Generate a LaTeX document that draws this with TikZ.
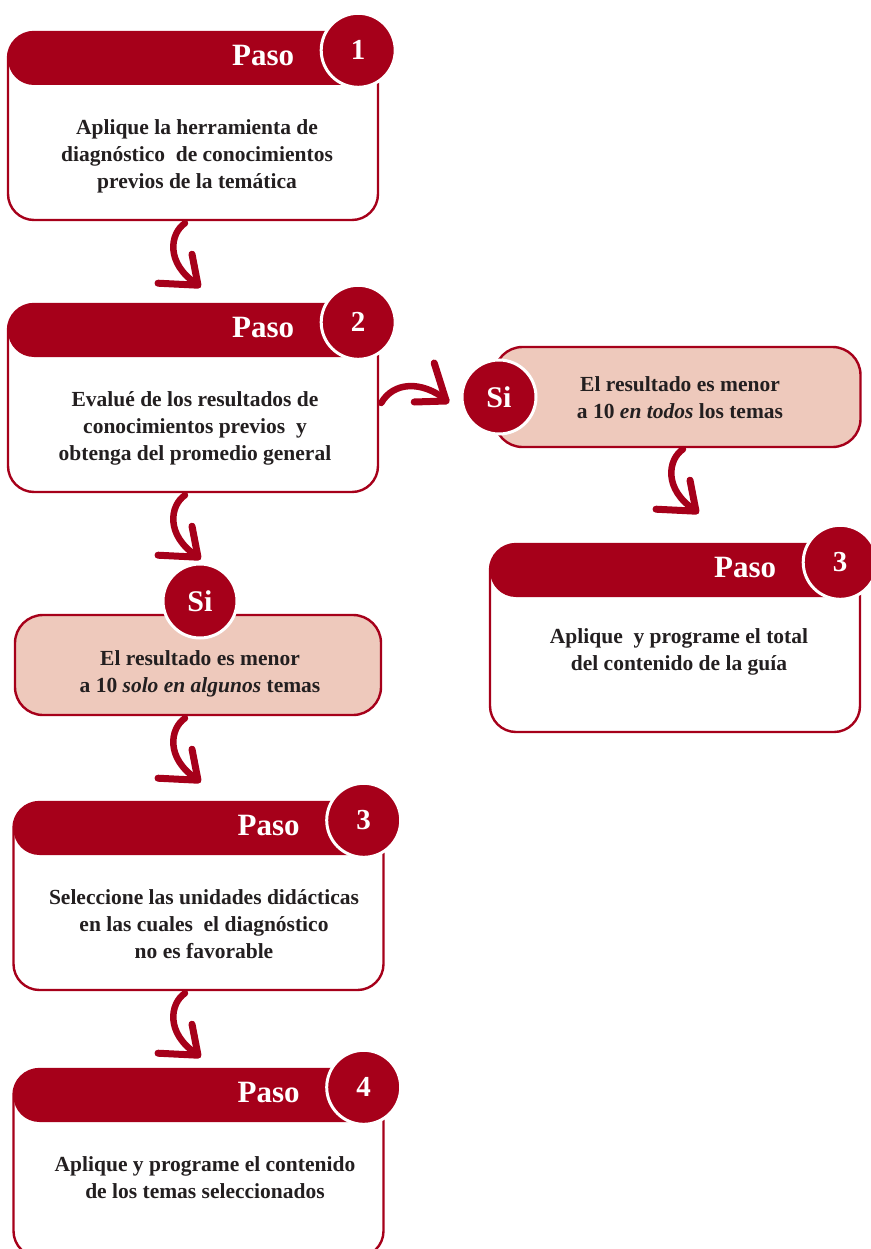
\documentclass[tikz,border=0pt]{standalone}
\usepackage{fontspec}
\setmainfont{Liberation Serif}
\usetikzlibrary{positioning}
\definecolor{pasored}{RGB}{166,0,26}
\definecolor{sipink}{RGB}{238,201,188}
\definecolor{inktext}{RGB}{35,31,32}
\tikzset{
    boxbase/.style = {rectangle, draw=pasored, line width=2.4pt, inner sep=0pt},
    card/.style = {boxbase, rounded corners=26pt, fill=white, minimum width=370pt, minimum height=188pt,
        path picture={\fill[pasored] (path picture bounding box.north west) rectangle ([yshift=-53pt]path picture bounding box.north east);}},
    sibox/.style = {boxbase, rounded corners=28pt, fill=sipink, minimum width=366pt, minimum height=100pt},
    badge/.style = {circle, fill=pasored, draw=white, line width=3pt, minimum size=74pt, inner sep=0pt, text=white, font=\fontsize{29}{29}\selectfont\bfseries},
    sibadge/.style = {badge, font=\fontsize{30}{30}\selectfont\bfseries},
    pasotxt/.style = {text=white, anchor=base, font=\fontsize{31}{31}\selectfont\bfseries},
    bodytxt/.style = {text=inktext, align=center, font=\fontsize{21.5}{27}\selectfont\bfseries},
    arrowink/.style = {draw=pasored, line width=6.5pt, line cap=round, line join=round},
    hookdown/.pic = {
        \draw[arrowink] (0,0) .. controls (-15,10) and (-20,40) .. (12,61);
        \draw[arrowink, line width=7pt] (7,31) -- (13,62) -- (-27,60);
    },
    hookright/.pic = {
        \draw[arrowink] (0,0) .. controls (12,-21) and (40,-23) .. (65,-3);
        \draw[arrowink, line width=7pt] (53,-40) -- (65,-2) -- (33,-1);
    }
}

\begin{document}
\begin{tikzpicture}[x=1pt,y=-1pt]
\useasboundingbox (0,0) rectangle (870,1249);
% left column
\node[card] (p1) at (193,126) {};
\node[pasotxt] (h1) at ([xshift=-116pt,yshift=-35pt]p1.north east) {Paso};
\node[badge] (n1) at ([xshift=-21pt,yshift=-19.5pt]p1.north east) {1};
\node[bodytxt] (t1) at (197,156) {Aplique la herramienta de\\diagnóstico\ \ de conocimientos\\previos de la temática};
%
\node[card] (p2) at (193,398) {};
\node[pasotxt] (h2) at ([xshift=-116pt,yshift=-35pt]p2.north east) {Paso};
\node[badge] (n2) at ([xshift=-21pt,yshift=-19.5pt]p2.north east) {2};
\node[bodytxt] (t2) at (195,428) {Evalué de los resultados de\\conocimientos previos\ \ y\\obtenga del promedio general};
%
\node[sibox] (s1) at (198,665) {};
\node[sibadge] (y1) at (200,601) {Si};
\node[bodytxt] (u1) at (200,674) {El resultado es menor\\a 10 \textit{solo en algunos} temas};
%
\node[card] (p3) at (198.5,896) {};
\node[pasotxt] (h3) at ([xshift=-116pt,yshift=-35pt]p3.north east) {Paso};
\node[badge] (n3) at ([xshift=-21pt,yshift=-19.5pt]p3.north east) {3};
\node[bodytxt] (t3) at (204,924) {Seleccione las unidades didácticas\\en las cuales\ \ el diagnóstico\\no es favorable};
%
\node[card] (p4) at (198.5,1163) {};
\node[pasotxt] (h4) at ([xshift=-116pt,yshift=-35pt]p4.north east) {Paso};
\node[badge] (n4) at ([xshift=-21pt,yshift=-19.5pt]p4.north east) {4};
\node[bodytxt] (t4) at (205,1178) {Aplique y programe el contenido\\de los temas seleccionados};
% right column
\node[sibox] (s2) at (677.5,397) {};
\node[sibadge] (y2) at (499,397) {Si};
\node[bodytxt] (u2) at (680,398) {El resultado es menor\\a 10 \textit{en todos} los temas};
%
\node[card] (p5) at (675,638) {};
\node[pasotxt] (h5) at ([xshift=-116pt,yshift=-35pt]p5.north east) {Paso};
\node[badge] (n5) at ([xshift=-21pt,yshift=-19.5pt]p5.north east) {3};
\node[bodytxt] (t5) at (679,652) {Aplique\ \ y programe el total\\del contenido de la guía};
% arrows
\pic at ([xshift=-8pt,yshift=-2pt]p1.south) {hookdown};
\pic at ([xshift=-8pt,yshift=-2pt]p2.south) {hookdown};
\pic at ([xshift=-13pt,yshift=-2pt]s1.south) {hookdown};
\pic at ([xshift=-13.5pt,yshift=-2pt]p3.south) {hookdown};
\pic at ([xshift=5.5pt,yshift=-1pt]s2.south) {hookdown};
\pic at ([xshift=2pt,yshift=-5pt]p2.east) {hookright};
\end{tikzpicture}
\end{document}
